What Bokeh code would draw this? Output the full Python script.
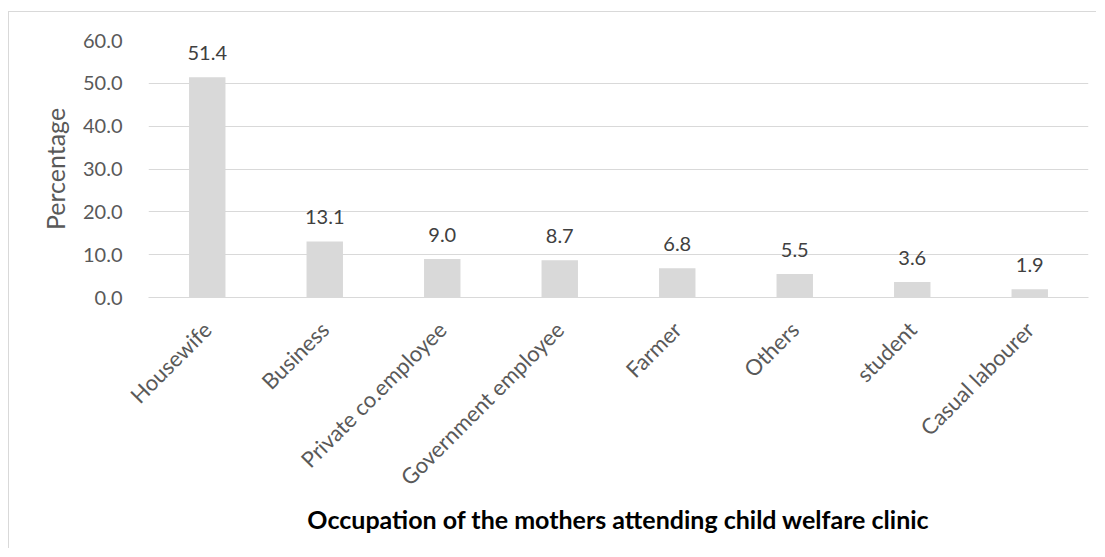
from bokeh.plotting import figure
from bokeh.models import ColumnDataSource, LabelSet, NumeralTickFormatter, FixedTicker
from bokeh.core.properties import value
from bokeh.embed import file_html
from bokeh.resources import INLINE
import math

categories = ["Housewife", "Business", "Private co.employee", "Government employee",
              "Farmer", "Others", "student", "Casual labourer"]
percentages = [51.4, 13.1, 9.0, 8.7, 6.8, 5.5, 3.6, 1.9]
y_ticks = [0, 10, 20, 30, 40, 50, 60]
labels = [f"{v:.1f}" for v in percentages]

source = ColumnDataSource(dict(cat=categories, pct=percentages, lbl=labels))

p = figure(x_range=categories, y_range=(0, 60), width=1088, height=537,
           output_backend="svg", toolbar_location=None,
           min_border_left=139, min_border_right=9, min_border_top=28, min_border_bottom=252)
p.styles = {"border-top": "1px solid #d9d9d9", "border-left": "1px solid #d9d9d9",
            "margin-top": "11px", "margin-left": "8px"}
p.x_range.range_padding = 0
p.outline_line_color = None
p.background_fill_color = "white"
p.border_fill_color = "white"

p.vbar(x="cat", top="pct", width=0.31, source=source, fill_color="#d9d9d9", line_color=None)

labs = LabelSet(x="cat", y="pct", text="lbl", source=source, y_offset=17,
                text_align="center", text_baseline="alphabetic",
                text_font=value("Lato"), text_font_size="20px", text_color="#404040")
p.add_layout(labs)

# y axis
p.yaxis.ticker = FixedTicker(ticks=y_ticks)
p.yaxis.formatter = NumeralTickFormatter(format="0.0")
p.yaxis.axis_line_color = None
p.yaxis.major_tick_line_color = None
p.yaxis.minor_tick_line_color = None
p.yaxis.major_label_text_font = "Lato"
p.yaxis.major_label_text_font_size = "20px"
p.yaxis.major_label_text_color = "#595959"
p.yaxis.major_label_standoff = 20
p.yaxis.axis_label = "Percentage"
p.yaxis.axis_label_text_font = "Lato"
p.yaxis.axis_label_text_font_size = "25px"
p.yaxis.axis_label_text_font_style = "normal"
p.yaxis.axis_label_text_color = "#595959"
p.yaxis.axis_label_standoff = 10

# x axis
p.xaxis.axis_line_color = "#d9d9d9"
p.xaxis.major_tick_line_color = None
p.xaxis.minor_tick_line_color = None
p.xaxis.major_label_orientation = math.pi / 4
p.xaxis.major_label_text_font = "Lato"
p.xaxis.major_label_text_font_size = "22px"
p.xaxis.major_label_text_color = "#595959"
p.xaxis.major_label_standoff = 22
p.xaxis.axis_label = "Occupation of the mothers attending child welfare clinic"
p.xaxis.axis_label_text_font = "Lato"
p.xaxis.axis_label_text_font_size = "25px"
p.xaxis.axis_label_text_font_style = "bold"
p.xaxis.axis_label_text_color = "#000000"
p.xaxis.axis_label_standoff = 1

p.xgrid.grid_line_color = None
p.ygrid.grid_line_color = "#d9d9d9"
p.ygrid.grid_line_width = 1

open("out.html", "w").write(file_html(p, INLINE))
